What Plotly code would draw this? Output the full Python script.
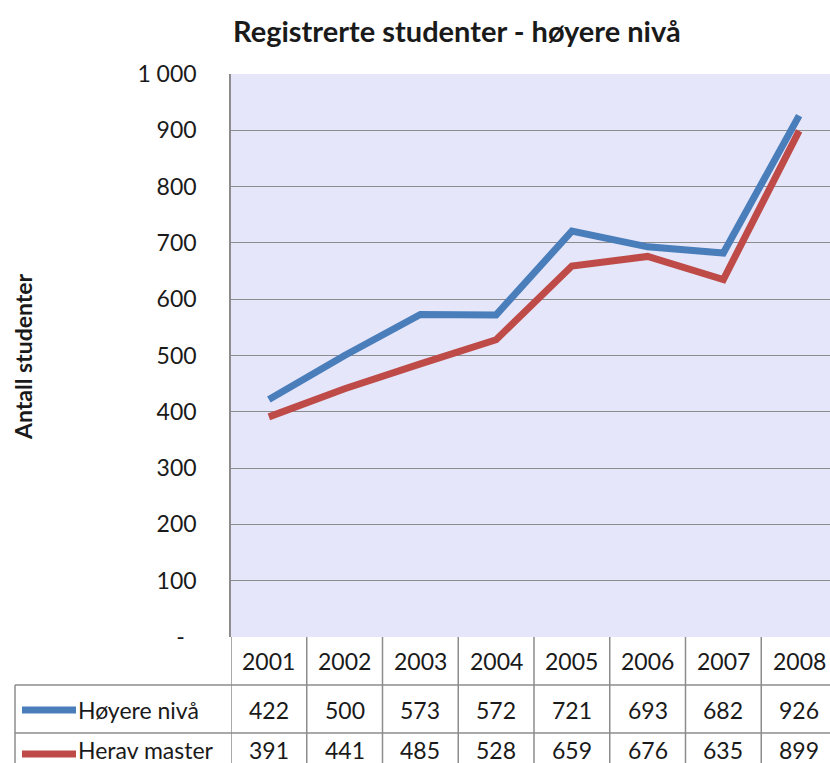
import plotly.graph_objects as go

years = ["2001", "2002", "2003", "2004", "2005", "2006", "2007", "2008"]
hoyere = [422, 500, 573, 572, 721, 693, 682, 926]
master = [391, 441, 485, 528, 659, 676, 635, 899]
series_names = ["Høyere nivå", "Herav master"]
y_tickvals = [0, 100, 200, 300, 400, 500, 600, 700, 800, 900, 1000]
y_ticktext = ["-" + "\u00a0" * 2, "100", "200", "300", "400", "500", "600", "700", "800", "900", "1 000"]

W, H = 830, 763
L, R, T, B = 231, 0, 74, 763 - 637
pw, ph = W - L - R, H - T - B
colw = 75.75
xmax = 0.5 + pw / colw

blue = "#4a7ebb"
red = "#be4b48"
grid = "#8c8c8c"
font = "Lato"
fs = 23
tc = "#1a1a1a"

xs = list(range(1, len(years) + 1))

fig = go.Figure()
fig.add_trace(go.Scatter(x=xs, y=hoyere, mode="lines", name=series_names[0],
                         line=dict(color=blue, width=7), cliponaxis=False, hoverinfo="skip"))
fig.add_trace(go.Scatter(x=xs, y=master, mode="lines", name=series_names[1],
                         line=dict(color=red, width=7), cliponaxis=False, hoverinfo="skip"))

# convert reference-screen pixel positions to paper coords
def py(px):
    return (637 - px) / ph

def pxp(px):
    return (px - 231) / pw

shapes = []
line_style = dict(color=grid, width=1.5)
row1, row2, rowb = 685, 733, 800
for i in range(len(years) + 1):
    shapes.append(dict(type="line", xref="x", yref="paper", x0=0.5 + i, x1=0.5 + i,
                       y0=py(637), y1=py(rowb), line=line_style, layer="above"))
for yy in (row1, row2):
    shapes.append(dict(type="line", xref="paper", yref="paper", x0=pxp(15), x1=1.02,
                       y0=py(yy), y1=py(yy), line=line_style))
shapes.append(dict(type="line", xref="paper", yref="paper", x0=pxp(15), x1=pxp(15),
                   y0=py(row1), y1=py(rowb), line=line_style))
for yy, c in ((710, blue), (754, red)):
    shapes.append(dict(type="line", xref="paper", yref="paper", x0=pxp(22), x1=pxp(76),
                       y0=py(yy), y1=py(yy), line=dict(color=c, width=7)))

annotations = []
fnt = dict(family=font, size=fs, color=tc)
for i, yr in enumerate(years):
    annotations.append(dict(x=i + 1, y=py(661), xref="x", yref="paper", text=yr,
                            showarrow=False, font=fnt, xanchor="center", yanchor="middle"))
    annotations.append(dict(x=i + 1, y=py(710), xref="x", yref="paper", text=str(hoyere[i]),
                            showarrow=False, font=fnt, xanchor="center", yanchor="middle"))
    annotations.append(dict(x=i + 1, y=py(750), xref="x", yref="paper", text=str(master[i]),
                            showarrow=False, font=fnt, xanchor="center", yanchor="middle"))
for yy, name in ((710, series_names[0]), (750, series_names[1])):
    annotations.append(dict(x=pxp(76), y=py(yy), xref="paper", yref="paper", text=name,
                            showarrow=False, font=fnt, xanchor="left", yanchor="middle"))
annotations.append(dict(x=pxp(23), y=py(357), xref="paper", yref="paper",
                        text="<b>Antall studenter</b>", textangle=-90, showarrow=False,
                        font=fnt, xanchor="center", yanchor="middle"))
annotations.append(dict(x=pxp(457), y=py(30), xref="paper", yref="paper",
                        text="<b>Registrerte studenter - høyere nivå</b>", showarrow=False,
                        font=dict(family=font, size=29, color=tc),
                        xanchor="center", yanchor="middle"))

fig.update_layout(
    width=W, height=H,
    margin=dict(l=L, r=R, t=T, b=B, pad=0),
    paper_bgcolor="white",
    plot_bgcolor="#e6e6fa",
    showlegend=False,
    hovermode=False,
    shapes=shapes,
    annotations=annotations,
    xaxis=dict(range=[0.5, xmax], showticklabels=False, showgrid=False, zeroline=False,
               showline=False, ticks="", fixedrange=True),
    yaxis=dict(range=[0, 1000], tickvals=y_tickvals, ticktext=y_ticktext,
               showgrid=True, gridcolor=grid, gridwidth=1.2, zeroline=False,
               showline=True, linecolor=grid, linewidth=1.5, mirror=False,
               ticks="", ticklabelstandoff=28,
               tickfont=fnt, fixedrange=True),
)

fig.write_html("out.html", config={"displayModeBar": False},
               post_script="document.body.style.margin='0';document.body.style.overflow='hidden';")
